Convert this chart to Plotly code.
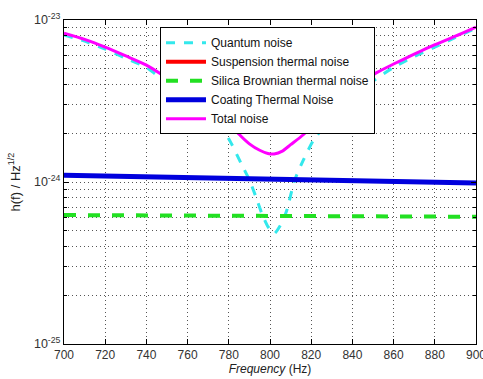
import plotly.graph_objects as go

# Frequencies (Hz) and strain noise values
freq_q = [700, 710, 720, 730, 740, 745, 755, 765, 774, 781, 786, 790, 793, 796, 799, 802, 805, 808, 812, 816, 821, 829, 840, 850, 860, 870, 880, 890, 900]
quantum = [8.1e-24, 7.4e-24, 6.6e-24, 5.8e-24, 5.1e-24, 4.57e-24, 3.7e-24, 3.0e-24, 2.42e-24, 1.75e-24, 1.3e-24, 1.03e-24, 8.2e-25, 6.4e-25, 5.3e-25, 4.8e-25, 5.4e-25, 6.6e-25, 1.03e-24, 1.35e-24, 1.8e-24, 2.42e-24, 3.3e-24, 4.2e-24, 5.1e-24, 5.95e-24, 6.8e-24, 7.8e-24, 8.9e-24]

freq_t = [700, 710, 720, 730, 740, 747, 755, 765, 779, 785, 790, 795, 799, 802, 806, 810, 816, 823, 832, 842, 852, 860, 870, 879, 890, 900]
total = [8.3e-24, 7.6e-24, 6.8e-24, 6.0e-24, 5.27e-24, 4.64e-24, 3.9e-24, 3.2e-24, 2.42e-24, 1.97e-24, 1.72e-24, 1.57e-24, 1.5e-24, 1.49e-24, 1.55e-24, 1.7e-24, 1.95e-24, 2.42e-24, 3.1e-24, 3.95e-24, 4.75e-24, 5.35e-24, 6.15e-24, 6.95e-24, 7.95e-24, 9.05e-24]

freq_s = [700, 750, 800, 850, 900]
suspension = [3e-26, 3e-26, 3e-26, 3e-26, 3e-26]
silica = [6.25e-25, 6.22e-25, 6.18e-25, 6.14e-25, 6.1e-25]
coating = [1.10e-24, 1.07e-24, 1.045e-24, 1.015e-24, 0.985e-24]

x_ticks = [700, 720, 740, 760, 780, 800, 820, 840, 860, 880, 900]
y_ticks = [1e-25, 1e-24, 1e-23]
y_labels = ["10<sup>-25</sup>", "10<sup>-24</sup>", "10<sup>-23</sup>"]

fig = go.Figure()
fig.add_trace(go.Scatter(x=freq_q, y=quantum, mode="lines", name="Quantum noise",
                         line=dict(color="#33e8ec", width=3, dash="dash", shape="spline", smoothing=0.6)))
fig.add_trace(go.Scatter(x=freq_s, y=suspension, mode="lines", name="Suspension thermal noise",
                         line=dict(color="#ff0000", width=4)))
fig.add_trace(go.Scatter(x=freq_s, y=silica, mode="lines", name="Silica Brownian thermal noise",
                         line=dict(color="#22e022", width=4, dash="dash")))
fig.add_trace(go.Scatter(x=freq_s, y=coating, mode="lines", name="Coating Thermal Noise",
                         line=dict(color="#0000dd", width=5)))
fig.add_trace(go.Scatter(x=freq_t, y=total, mode="lines", name="Total noise",
                         line=dict(color="#ff00ff", width=3, shape="spline", smoothing=0.6)))

font_family = "Liberation Sans, Arial, sans-serif"
grid_dash = "1px,3px"
grid_color = "#555"
fig.update_layout(
    width=483, height=379,
    margin=dict(l=64, r=7, t=20, b=35, autoexpand=False),
    paper_bgcolor="white", plot_bgcolor="white",
    font=dict(family=font_family, size=12, color="#222"),
    showlegend=True,
    legend=dict(x=0.233, y=0.978, xanchor="left", yanchor="top",
                bgcolor="white", bordercolor="black", borderwidth=1,
                font=dict(size=12, color="#111"), tracegroupgap=0,
                itemwidth=40),
    xaxis=dict(range=[700, 900], tickvals=x_ticks, ticks="inside", ticklen=5,
               tickcolor="black", showline=True, linecolor="black", linewidth=1, mirror="ticks",
               showgrid=True, gridcolor=grid_color, griddash=grid_dash, gridwidth=1, zeroline=False,
               automargin=False, ticklabeloverflow="allow",
               tickfont=dict(size=12, color="#333"),
               title=dict(text="<i>Frequency</i> (Hz)", font=dict(size=12, color="#222"), standoff=3)),
    yaxis=dict(type="log", range=[-25, -23], tickvals=y_ticks, ticktext=y_labels,
               ticks="inside", ticklen=5, tickcolor="black",
               showline=True, linecolor="black", linewidth=1, mirror="ticks",
               showgrid=True, gridcolor=grid_color, griddash=grid_dash, gridwidth=1, zeroline=False,
               automargin=False, ticklabeloverflow="allow",
               tickfont=dict(size=12.5, color="#333"),
               minor=dict(dtick="D1", showgrid=True, gridcolor=grid_color, griddash=grid_dash,
                          ticks="inside", ticklen=3, tickcolor="black"),
               title=dict(text="h(f) / Hz<sup>1/2</sup>", font=dict(size=13, color="#222"), standoff=10)),
)

fig.write_html("out.html", config={"displayModeBar": False},
               post_script="document.body.style.margin='0px';document.body.style.overflow='hidden';")
